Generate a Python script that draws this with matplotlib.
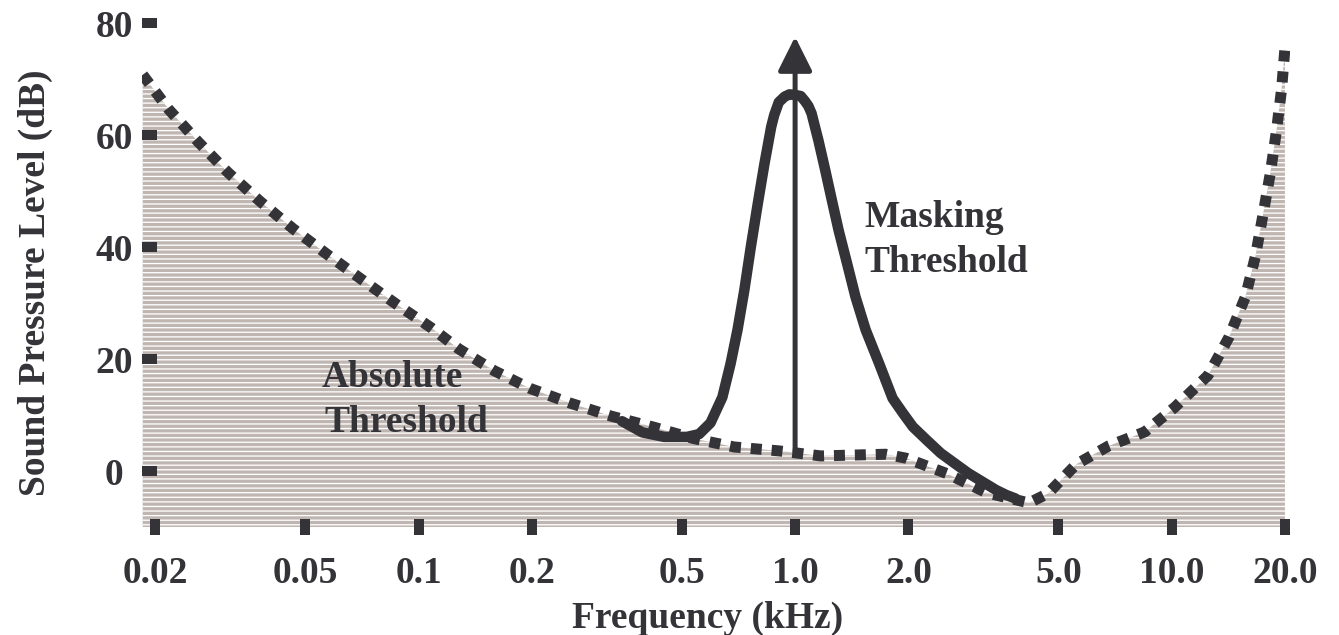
import matplotlib
matplotlib.use("Agg")
import matplotlib.pyplot as plt

# absolute threshold of hearing (dotted curve), kHz / dB
abs_freq = [0.0185, 0.0217, 0.0259, 0.0311, 0.0379, 0.0464, 0.0572, 0.0707, 0.0873,
            0.108, 0.128, 0.159, 0.197, 0.251, 0.325, 0.418, 0.538, 0.689, 0.906,
            1.17, 1.52, 1.74, 1.97, 2.54, 3.23, 4.18, 4.70, 5.58, 6.81, 8.49,
            10.2, 12.5, 14.2, 15.7, 16.7, 17.5, 18.3, 19.0, 19.6, 20.0]
abs_db = [70.8, 64.6, 58.9, 53.4, 48.2, 43.3, 38.7, 34.2, 29.8,
          25.6, 21.8, 17.9, 14.8, 12.2, 9.8, 7.9, 5.8, 4.3, 3.6,
          2.7, 2.9, 3.0, 2.3, -0.5, -3.9, -5.7, -4.0, 1.2, 4.5, 7.0,
          11.4, 17.1, 23.9, 31.1, 38.4, 45.9, 53.3, 60.9, 68.3, 75.5]

# masking threshold around a 1 kHz tone (solid curve)
mask_freq = [0.347, 0.393, 0.449, 0.516, 0.556, 0.596, 0.641, 0.674, 0.703, 0.733,
             0.763, 0.796, 0.829, 0.864, 0.880, 0.905, 0.938, 0.966, 1.0, 1.035,
             1.062, 1.085, 1.106, 1.153, 1.202, 1.252, 1.305, 1.374, 1.447, 1.540,
             1.672, 1.815, 1.931, 2.055, 2.239, 2.436, 2.651, 2.887, 3.142, 3.420,
             3.644, 3.846]
mask_db = [8.9, 6.9, 6.1, 6.1, 6.6, 8.6, 13.2, 19.2, 25.2, 32.3,
           40.1, 47.8, 54.9, 61.5, 63.6, 65.9, 66.9, 67.3, 67.2, 67.0,
           66.1, 65.2, 63.9, 59.1, 53.8, 48.4, 43.0, 37.1, 31.1, 25.2,
           19.2, 13.0, 10.4, 7.9, 5.5, 3.2, 1.4, -0.4, -1.9, -3.4,
           -4.3, -4.9]

# masker tone
tone_freq = 1.0
tone_from = 3.4
tone_to = 77.6

xticks = [0.02, 0.05, 0.1, 0.2, 0.5, 1.0, 2.0, 5.0, 10.0, 20.0]
xticklabels = ["0.02", "0.05", "0.1", "0.2", "0.5", "1.0", "2.0", "5.0", "10.0", "20.0"]
yticks = [0, 20, 40, 60, 80]

DPI = 110
k = 72.0 / DPI          # pixels -> points
dark = "#333338"
fillc = "#bfb5b1"

plt.rcParams["font.family"] = ["Liberation Serif", "DejaVu Serif"]
plt.rcParams["font.weight"] = "bold"
plt.rcParams["hatch.color"] = "white"
plt.rcParams["hatch.linewidth"] = 1.3 * k
fs = 37.5 * k

fig = plt.figure(figsize=(1339 / DPI, 635 / DPI), dpi=DPI)
ax = fig.add_axes([142 / 1339, 108 / 635, 1148 / 1339, 503.7 / 635])

ax.fill_between(abs_freq, abs_db, -10, facecolor=fillc, edgecolor="white",
                hatch="----", linewidth=0, zorder=1)
ax.plot(abs_freq, abs_db, color=dark, lw=11 * k, linestyle=(0, (1, 0.9)),
        dash_capstyle="butt", zorder=2)
ax.plot(mask_freq, mask_db, color=dark, lw=10.5 * k, solid_capstyle="round",
        solid_joinstyle="round", zorder=3)
ax.annotate("", xy=(tone_freq, tone_to), xytext=(tone_freq, tone_from),
            arrowprops=dict(arrowstyle="-|>,head_length=1.9,head_width=0.95",
                            lw=5 * k, color=dark, shrinkA=0, shrinkB=0),
            zorder=4)

ax.set_xscale("log")
ax.set_xlim(0.01842, 20.63)
ax.set_ylim(-10, 80)
ax.set_xticks(xticks)
ax.set_xticklabels(xticklabels)
ax.minorticks_off()
ax.set_yticks(yticks)
for s in ax.spines.values():
    s.set_visible(False)

ax.tick_params(axis="y", direction="in", length=15 * k, width=10 * k, pad=28 * k,
               colors=dark, labelsize=fs)
ax.tick_params(axis="x", direction="inout", length=16 * k, width=10 * k, pad=21 * k,
               colors=dark, labelsize=fs)
for lab in ax.get_yticklabels():
    lab.set_ha("center")

W, H = 1339.0, 635.0
def ftext(x, y, s, **kw):
    fig.text(x / W, 1 - y / H, s, color=dark, fontsize=fs, fontweight="bold",
             va="baseline", **kw)

ftext(322, 387, "Absolute")
ftext(324, 432, "Threshold")
ftext(864, 227, "Masking")
ftext(864, 272, "Threshold")
ftext(708, 628, "Frequency (kHz)", ha="center")
fig.text(35 / W, 1 - 283 / H, "Sound Pressure Level (dB)", color=dark, fontsize=fs,
         fontweight="bold", rotation=90, ha="center", va="center")

fig.savefig("out.png", dpi=DPI)
